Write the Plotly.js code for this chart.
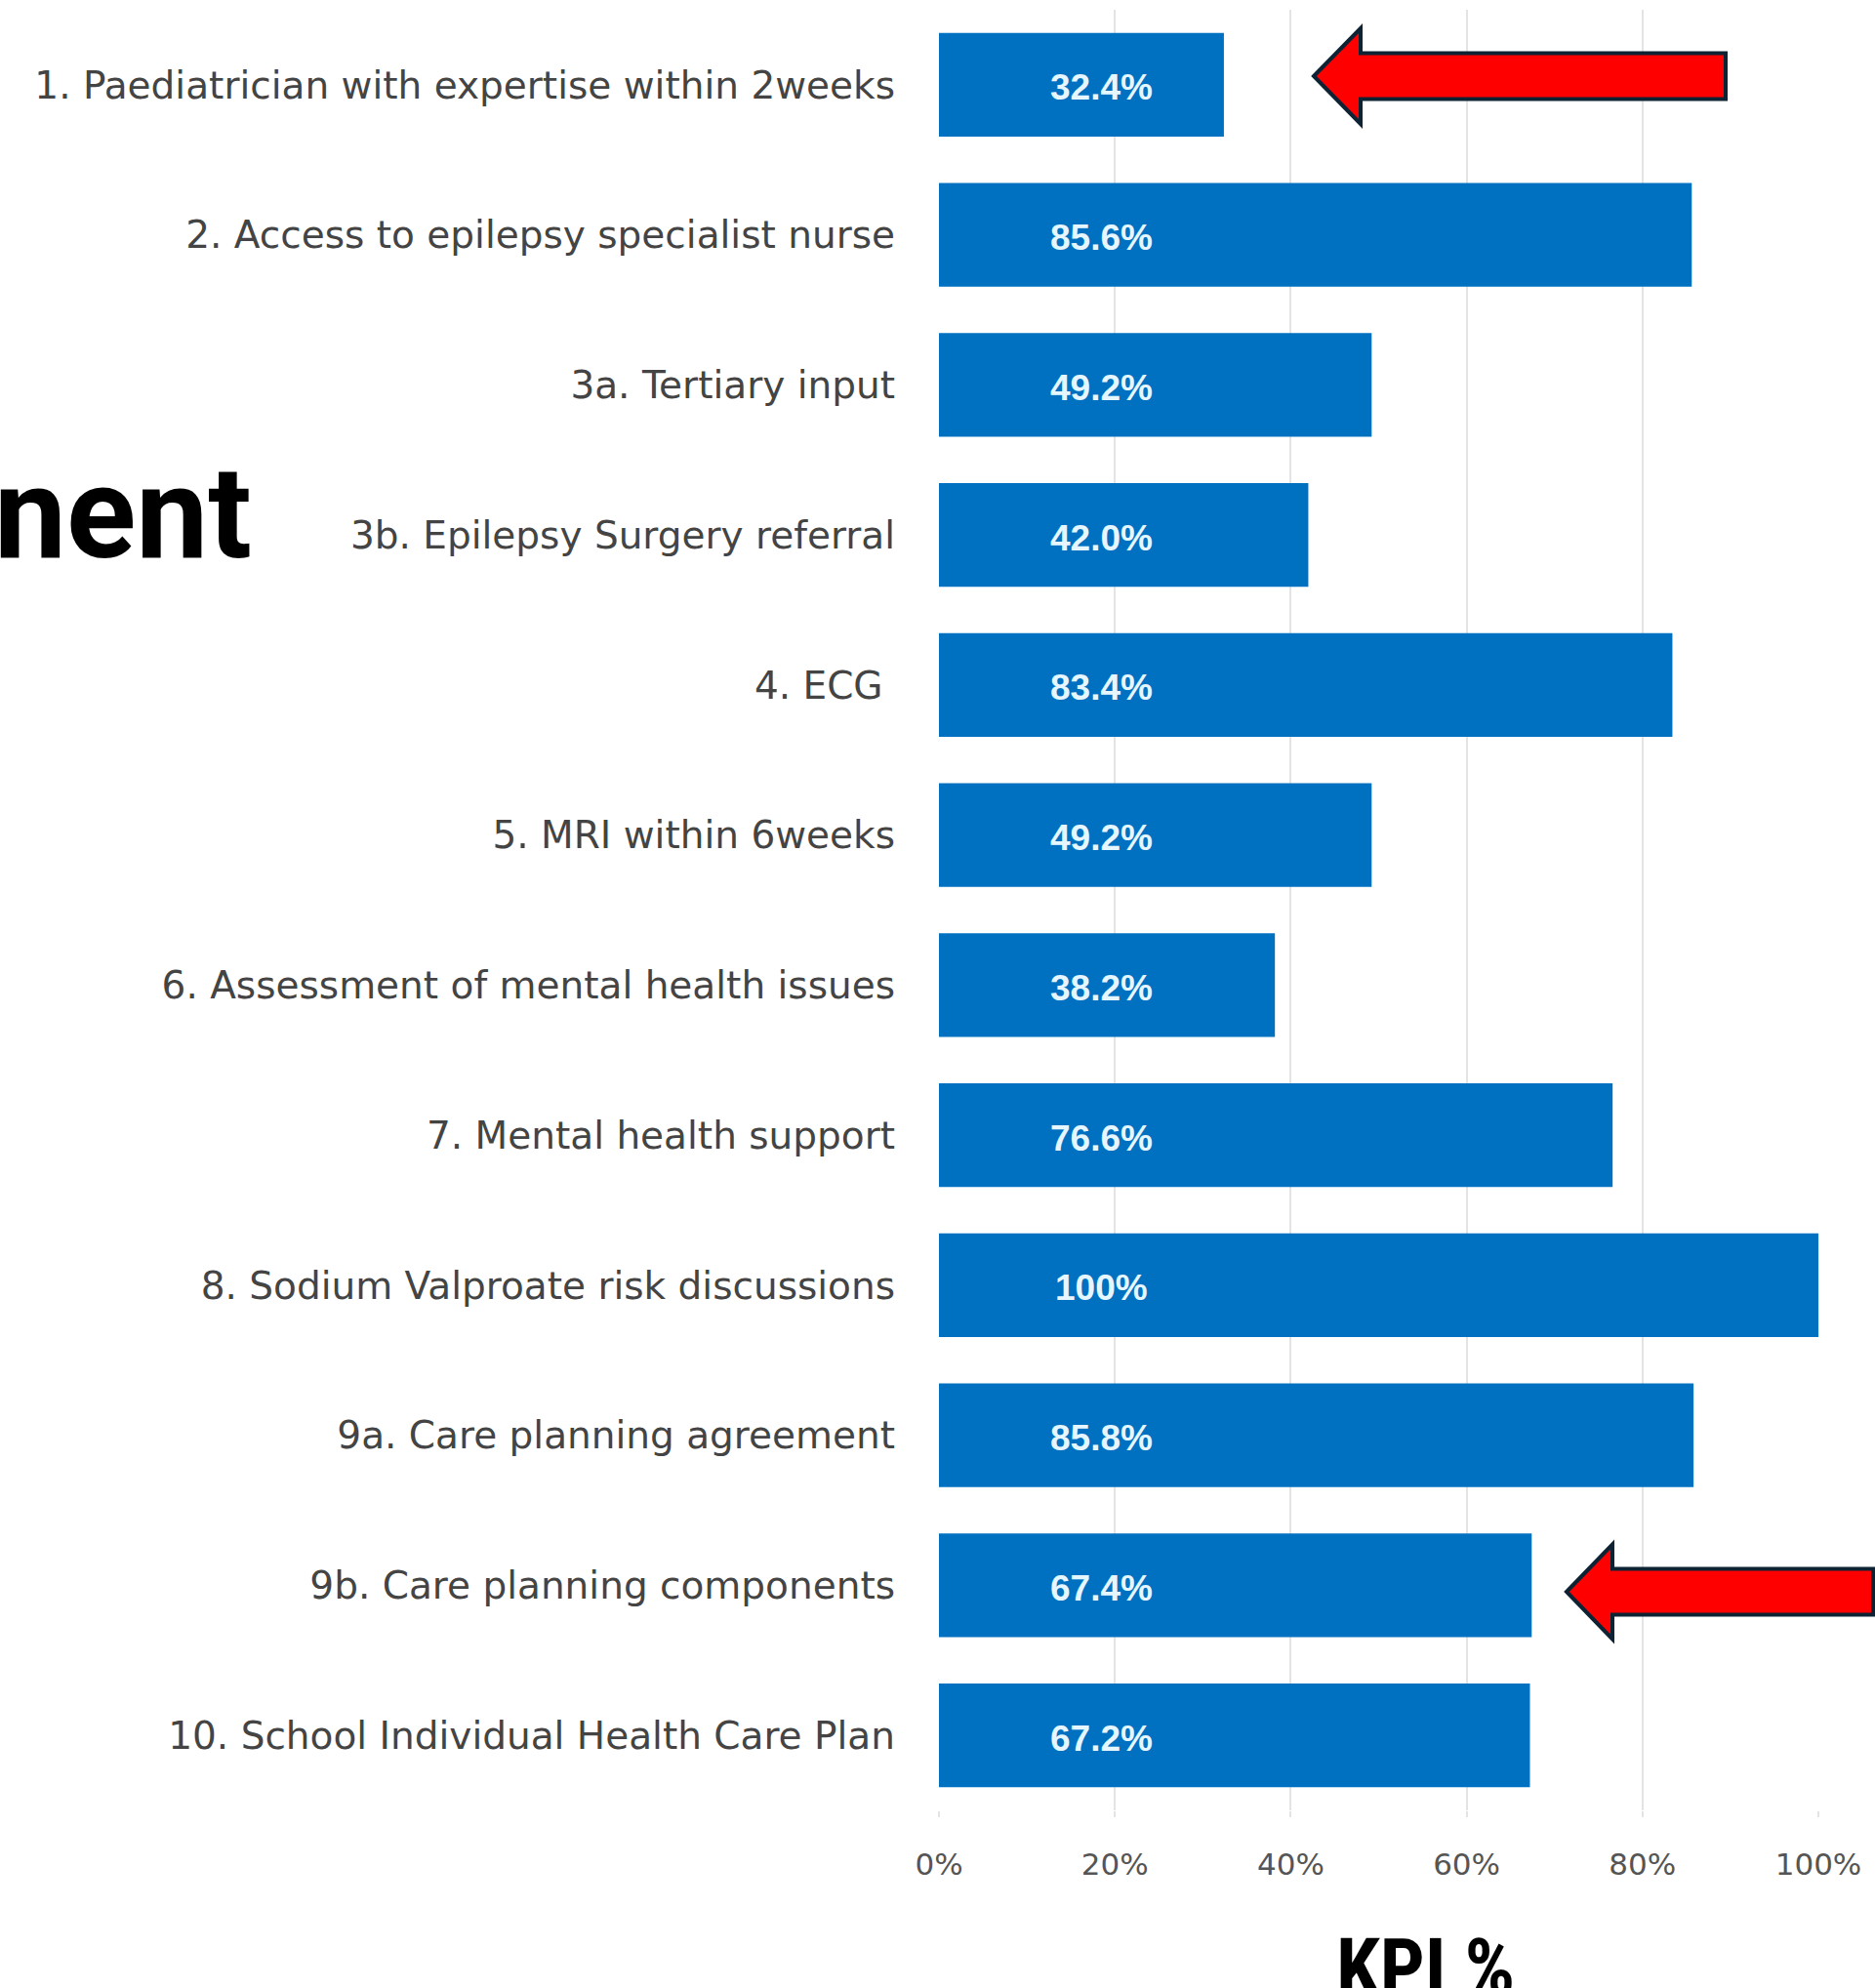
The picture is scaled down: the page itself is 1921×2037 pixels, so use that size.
<!DOCTYPE html>
<html><head><meta charset="utf-8">
<script src="https://cdn.plot.ly/plotly-3.0.1.min.js"></script>
<style>html,body{margin:0;padding:0;background:#fff;overflow:hidden}</style>
</head><body><div id="chart" style="width:1921px;height:2037px"></div>
<script>
const categories = [
  "1. Paediatrician with expertise within 2weeks",
  "2. Access to epilepsy specialist nurse",
  "3a. Tertiary input",
  "3b. Epilepsy Surgery referral",
  "4. ECG ",
  "5. MRI within 6weeks",
  "6. Assessment of mental health issues",
  "7. Mental health support",
  "8. Sodium Valproate risk discussions",
  "9a. Care planning agreement",
  "9b. Care planning components",
  "10. School Individual Health Care Plan"
];
const kpiValues = [32.4, 85.6, 49.2, 42.0, 83.4, 49.2, 38.2, 76.6, 100, 85.8, 67.4, 67.2];
const valueLabels = ["32.4%","85.6%","49.2%","42.0%","83.4%","49.2%","38.2%","76.6%","100%","85.8%","67.4%","67.2%"];
const xTickValues = [0, 20, 40, 60, 80, 100];
const xTickLabels = ["0%", "20%", "40%", "60%", "80%", "100%"];
const axisTitle = "KPI %";
const sideTitleFragment = "nent";

const W = 1921, H = 2037;
const M = {l: 962, r: 58, t: 10, b: 182};
const PW = W - M.l - M.r, PH = H - M.t - M.b;
const px = x => (x - M.l) / PW;
const py = y => (H - M.b - y) / PH;

function arrowPath(tipX, tipY, headX, headHalf, shaftHalf, endX) {
  const pts = [
    [tipX, tipY], [headX, tipY - headHalf], [headX, tipY - shaftHalf],
    [endX, tipY - shaftHalf], [endX, tipY + shaftHalf], [headX, tipY + shaftHalf],
    [headX, tipY + headHalf]
  ];
  return "M" + pts.map(p => px(p[0]).toFixed(5) + "," + py(p[1]).toFixed(5)).join(" L") + " Z";
}

const barTrace = {
  type: "bar", orientation: "h",
  x: kpiValues, y: categories,
  marker: {color: "#0070c0", line: {width: 0}},
  hoverinfo: "skip", showlegend: false
};

const valueAnnotations = categories.map((c, i) => ({
  text: valueLabels[i], x: 18.5, y: c, xref: "x", yref: "y",
  xanchor: "center", yanchor: "middle", yshift: -3, showarrow: false,
  font: {family: "Liberation Sans, Arial, sans-serif", size: 37, color: "#e6f6ff", weight: "bold"}
}));

const layout = {
  width: W, height: H,
  margin: M,
  paper_bgcolor: "#ffffff", plot_bgcolor: "#ffffff",
  bargap: 0.31,
  showlegend: false,
  xaxis: {
    range: [0, 100], tickvals: xTickValues, ticktext: xTickLabels,
    showgrid: true, gridcolor: "#e4e4e4", gridwidth: 2, zeroline: false,
    ticks: "outside", ticklen: 6, tickcolor: "#e4e4e4", tickwidth: 2,
    ticklabelstandoff: 22,
    tickfont: {family: "DejaVu Sans, sans-serif", size: 31, color: "#555555"},
    showline: false, fixedrange: true
  },
  yaxis: {
    type: "category", categoryorder: "array", categoryarray: categories,
    range: [categories.length - 0.5, -0.5], autorange: false,
    showgrid: false, zeroline: false, ticks: "",
    ticklabelstandoff: 44,
    tickfont: {family: "DejaVu Sans, sans-serif", size: 39, color: "#444444"},
    fixedrange: true
  },
  annotations: valueAnnotations.concat([
    {text: axisTitle, xref: "paper", yref: "paper", x: px(1460), y: py(2016),
     xanchor: "center", yanchor: "middle", showarrow: false,
     font: {family: "Liberation Sans Narrow, Roboto Condensed, sans-serif", size: 81, color: "#000", weight: "bold"}},
    {text: sideTitleFragment, xref: "paper", yref: "paper", x: px(260), y: py(526),
     xanchor: "right", yanchor: "middle", showarrow: false,
     font: {family: "Roboto, sans-serif", size: 132, color: "#000", weight: "bold"}}
  ]),
  shapes: [
    {type: "path", xref: "paper", yref: "paper",
     path: arrowPath(1346, 78, 1394, 49, 23.5, 1768),
     fillcolor: "#ff0000", line: {color: "#0d2233", width: 4}},
    {type: "path", xref: "paper", yref: "paper",
     path: arrowPath(1605, 1631, 1652, 48.5, 23.5, 1919),
     fillcolor: "#ff0000", line: {color: "#0d2233", width: 4}}
  ]
};

Plotly.newPlot("chart", [barTrace], layout, {staticPlot: true, displayModeBar: false});
</script></body></html>
